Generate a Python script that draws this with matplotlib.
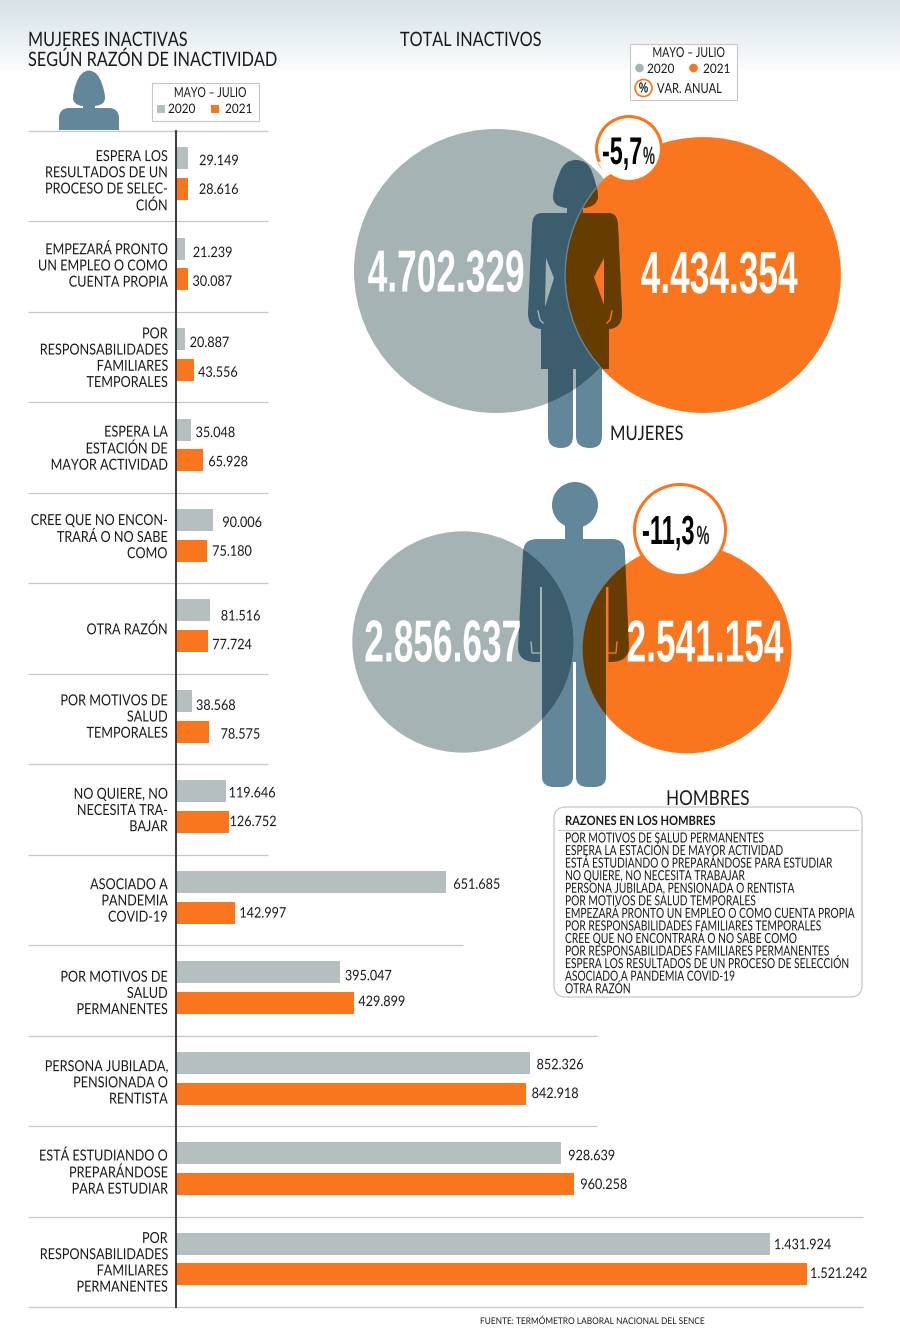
import numpy as np
import matplotlib
matplotlib.use('Agg')
import matplotlib.pyplot as plt
import matplotlib.patheffects as pe
from matplotlib.patches import Circle, PathPatch, Polygon, Rectangle, FancyBboxPatch
from matplotlib.path import Path
from matplotlib.transforms import Affine2D

# Bars: inactive women by reason
reasons = ['ESPERA LOS\nRESULTADOS DE UN\nPROCESO DE SELEC-\nCIÓN',
           'EMPEZARÁ PRONTO\nUN EMPLEO O COMO\nCUENTA PROPIA',
           'POR\nRESPONSABILIDADES\nFAMILIARES\nTEMPORALES',
           'ESPERA LA\nESTACIÓN DE\nMAYOR ACTIVIDAD',
           'CREE QUE NO ENCON-\nTRARÁ O NO SABE\nCOMO',
           'OTRA RAZÓN',
           'POR MOTIVOS DE\nSALUD\nTEMPORALES',
           'NO QUIERE, NO\nNECESITA TRA-\nBAJAR',
           'ASOCIADO A\nPANDEMIA\nCOVID-19',
           'POR MOTIVOS DE\nSALUD\nPERMANENTES',
           'PERSONA JUBILADA,\nPENSIONADA O\nRENTISTA',
           'ESTÁ ESTUDIANDO O\nPREPARÁNDOSE\nPARA ESTUDIAR',
           'POR\nRESPONSABILIDADES\nFAMILIARES\nPERMANENTES']
women_2020 = [29149, 21239, 20887, 35048, 90006, 81516, 38568, 119646,
              651685, 395047, 852326, 928639, 1431924]
women_2021 = [28616, 30087, 43556, 65928, 75180, 77724, 78575, 126752,
              142997, 429899, 842918, 960258, 1521242]

# Circles: total inactive
total_women = [4702329, 4434354]
total_men = [2856637, 2541154]
var_women = '-5,7'
var_men = '-11,3'

men_reasons = ['POR MOTIVOS DE SALUD PERMANENTES',
               'ESPERA LA ESTACIÓN DE MAYOR ACTIVIDAD',
               'ESTÁ ESTUDIANDO O PREPARÁNDOSE PARA ESTUDIAR',
               'NO QUIERE, NO NECESITA TRABAJAR',
               'PERSONA JUBILADA, PENSIONADA O RENTISTA',
               'POR MOTIVOS DE SALUD TEMPORALES',
               'EMPEZARÁ PRONTO UN EMPLEO O COMO CUENTA PROPIA',
               'POR RESPONSABILIDADES FAMILIARES TEMPORALES',
               'CREE QUE NO ENCONTRARÁ O NO SABE COMO',
               'POR RESPONSABILIDADES FAMILIARES PERMANENTES',
               'ESPERA LOS RESULTADOS DE UN PROCESO DE SELECCIÓN',
               'ASOCIADO A PANDEMIA COVID-19',
               'OTRA RAZÓN']

GRAY = '#A6B3B4'
BAR_GRAY = '#B5BFC0'
ORANGE = '#FA761E'
BODY = '#62869A'
BODY_GRAY = '#3C5D6E'
BODY_ORANGE = '#663C00'
INK = '#1A1A1A'
RULE = '#C4C8C8'

plt.rcParams['font.family'] = ['Lato', 'DejaVu Sans']
BIG_FONT = ['Liberation Sans', 'DejaVu Sans']


# Tall condensed look: fit the width with the font size, then stretch up from the baseline
class StretchY(pe.AbstractPathEffect):
    def __init__(self, sy):
        super().__init__()
        self.sy = sy

    def draw_path(self, renderer, gc, tpath, affine, rgbFace=None):
        y0 = affine.get_matrix()[1, 2]
        stretched = affine + Affine2D().translate(0, -y0).scale(1, self.sy).translate(0, y0)
        renderer.draw_path(gc, tpath, stretched, rgbFace)


def make_path(steps):
    verts, codes = [], []
    for s in steps:
        if s[0] == 'M':
            verts.append(s[1:3]); codes.append(Path.MOVETO)
        elif s[0] == 'L':
            verts.append(s[1:3]); codes.append(Path.LINETO)
        elif s[0] == 'Q':
            verts += [s[1:3], s[3:5]]; codes += [Path.CURVE3, Path.CURVE3]
    verts.append(verts[0]); codes.append(Path.CLOSEPOLY)
    return Path(verts, codes)


fig = plt.figure(figsize=(9, 13.39), dpi=100)

# Page axes in pixel coordinates for everything around the bars
page = fig.add_axes([0, 0, 1, 1], zorder=0)
page.set_xlim(0, 900)
page.set_ylim(1339, 0)
page.axis('off')


def txt(x, y, s, size, sy=1.25, color=INK, **kw):
    return page.text(x, y, s, fontsize=size, color=color, path_effects=[StretchY(sy)], **kw)


# top gradient band
band = np.linspace(0, 1, 70).reshape(-1, 1, 1)
top = np.array([0.84, 0.885, 0.905])
bottom = np.array([0.985, 0.99, 0.99])
page.imshow(top + (bottom - top) * band, extent=(0, 900, 70, 0), aspect='auto', zorder=0)
page.set_xlim(0, 900)
page.set_ylim(1339, 0)

# titles
txt(28, 46, 'MUJERES INACTIVAS', 11.7, sy=1.22)
txt(28, 66, 'SEGÚN RAZÓN DE INACTIVIDAD', 11.7, sy=1.22)
txt(400, 46, 'TOTAL INACTIVOS', 11.7, sy=1.22)
txt(610, 440, 'MUJERES', 12, sy=1.2)
txt(708, 805, 'HOMBRES', 12.3, sy=1.2, ha='center')

# woman icon above the bars
icon = make_path([('M', 89, 70.5), ('Q', 98, 71, 102, 84), ('Q', 105, 92, 105, 98), ('Q', 105, 105, 95, 106),
                  ('L', 95, 108), ('L', 110, 108), ('Q', 119, 109, 119, 118), ('L', 119, 130), ('L', 59, 130),
                  ('L', 59, 118), ('Q', 59, 109, 68, 108), ('L', 83, 108), ('L', 83, 106), ('Q', 73, 105, 73, 98),
                  ('Q', 73, 92, 76, 84), ('Q', 80, 71, 89, 70.5)])
page.add_patch(PathPatch(icon, fc=BODY, ec='none'))

# bar legend
page.add_patch(Rectangle((151.5, 82.5), 107, 38, fc='white', ec=RULE, lw=0.8))
txt(210, 97, 'MAYO – JULIO', 7.6, sy=1.3, ha='center')
page.add_patch(Rectangle((157, 104.5), 8, 8, fc=BAR_GRAY, ec='none'))
txt(168, 113, '2020', 8.5, sy=1.1)
page.add_patch(Rectangle((211, 104.5), 8, 8, fc=ORANGE, ec='none'))
txt(225, 113, '2021', 8.5, sy=1.1)

# rows
row_top = 131
row_h = (1307 - 131) / 13
rule_ends = [268] * 9 + [463, 597, 597, 863, 863]
label_shift = [4, -2, 0, 0, -2, 0, -3, 0, 0, 2, 1, 0, 0]
for i, end in enumerate(rule_ends):
    y = row_top + i * row_h
    page.plot([28, end], [y, y], color=RULE, lw=0.9, solid_capstyle='butt')
for i, label in enumerate(reasons):
    txt(167.5, row_top + (i + 0.5) * row_h + label_shift[i] + 1.5, label, 9.1, sy=1.2, ha='right', va='center',
        linespacing=1.42)

# Bars axes: zero sits on the dark vertical line, scale
ax = fig.add_axes([176 / 900, 1 - 1307 / 1339, 724 / 900, 1176 / 1339], zorder=1)
ax.patch.set_alpha(0)
ax.set_xlim(0, 1521242 * 724 / 631)
ax.set_ylim(13, 0)
ax.axis('off')
rows = np.arange(len(reasons))
ax.barh(rows + 0.30, women_2020, height=0.243, color=BAR_GRAY)
ax.barh(rows + 0.64, women_2021, height=0.243, color=ORANGE)
ax.plot([0, 0], [0, 13], color='#2B2B2B', lw=1.3, clip_on=False)

# per-label nudges in pixels, the source does not space them evenly
gaps_2020 = [11, 8, 5, 5, 9, 11, 4, 3, 7, 5, 7, 7, 4]
gaps_2021 = [11, 4, 4, 5, 5, 4, 12, 1, 4, 4, 6, 6, 3]
drop_2020 = [3, 4.5, 4, 3.6, 3, 6, 5, 2, 3, 4, 2.5, 3, 1.5]
drop_2021 = [1, 2.5, 3, 2, 1, 4, 3, 0, 1, -1, 0.5, 1, -0.5]


def fmt(v):
    return f'{v:,}'.replace(',', '.')


for i in rows:
    for vals, gaps, drops, off in ((women_2020, gaps_2020, drop_2020, 0.30),
                                   (women_2021, gaps_2021, drop_2021, 0.64)):
        ax.annotate(fmt(vals[i]), (vals[i], i + off), xytext=(gaps[i] * 0.72, -drops[i] * 0.72),
                    textcoords='offset points', fontsize=9.1, color=INK, va='center',
                    path_effects=[StretchY(1.15)])

# Circles, radius follows the square root of the total
k = 142 / np.sqrt(total_women[0])
w_gray = Circle((496, 271), k * np.sqrt(total_women[0]), fc=GRAY, ec='none', zorder=2)
w_orange = Circle((703, 275), k * np.sqrt(total_women[1]), fc=ORANGE, ec='none', zorder=3)
m_gray = Circle((463, 642), k * np.sqrt(total_men[0]), fc=GRAY, ec='none', zorder=2)
m_orange = Circle((687, 649), k * np.sqrt(total_men[1]), fc=ORANGE, ec='none', zorder=3)

woman_path = make_path([
    ('M', 576, 160), ('Q', 588, 160, 592, 172), ('Q', 598, 188, 598, 197), ('Q', 597, 207, 583, 208), ('L', 583, 213),
    ('L', 608, 213),
    ('Q', 618, 213, 618, 226), ('L', 622, 313), ('Q', 622, 328, 609, 329), ('L', 609, 369), ('L', 602, 369),
    ('L', 602, 436), ('Q', 602, 448, 590, 448), ('Q', 576, 448, 576, 436), ('L', 576, 369), ('L', 573, 369),
    ('L', 573, 436), ('Q', 573, 448, 561, 448), ('Q', 548, 448, 548, 436), ('L', 548, 369), ('L', 541, 369),
    ('L', 541, 329), ('Q', 528, 328, 528, 313), ('L', 532, 226), ('Q', 532, 213, 542, 213), ('L', 567, 213),
    ('L', 567, 208), ('Q', 553, 207, 553, 197), ('Q', 553, 188, 560, 172), ('Q', 564, 160, 576, 160)])
woman_gap_l = Polygon([(546, 258), (545, 307), (554, 278)], closed=True, fc=GRAY, ec='none', zorder=6)
woman_gap_r = Polygon([(604, 258), (594, 277), (604, 305)], closed=True, fc=ORANGE, ec='none', zorder=6)

man_body = make_path([
    ('M', 565, 525), ('L', 583, 525), ('L', 583, 539), ('L', 612, 539), ('Q', 625, 539, 625, 553), ('L', 629, 647),
    ('Q', 629, 662, 610, 662), ('L', 608.5, 662), ('L', 608.5, 587), ('L', 606, 587), ('L', 606, 777),
    ('Q', 606, 787, 594, 787), ('L', 588, 787), ('Q', 576, 787, 576, 777), ('L', 576, 662), ('L', 573, 662),
    ('L', 573, 777), ('Q', 573, 787, 561, 787), ('L', 554, 787), ('Q', 542, 787, 542, 777), ('L', 542, 587),
    ('L', 540, 587), ('L', 540, 662), ('L', 536, 662), ('Q', 518, 662, 518, 647), ('L', 523, 553),
    ('Q', 523, 539, 537, 539), ('L', 565, 539)])
man_head = Path.circle((575, 505), 23)

for c in (w_gray, w_orange, m_gray, m_orange):
    page.add_patch(c)

# body colour goes under the circles, darker copies are clipped to each circle
for shape, gray_c, orange_c in ((woman_path, w_gray, w_orange), (man_body, m_gray, m_orange),
                                (man_head, m_gray, m_orange)):
    page.add_patch(PathPatch(shape, fc=BODY, ec='none', zorder=1))
    dark = PathPatch(shape, fc=BODY_GRAY, ec='none', zorder=4)
    page.add_patch(dark)
    dark.set_clip_path(gray_c)
    brown = PathPatch(shape, fc=BODY_ORANGE, ec='none', zorder=5)
    page.add_patch(brown)
    brown.set_clip_path(orange_c)

page.add_patch(woman_gap_l)
page.add_patch(woman_gap_r)

# thin edge of the orange circle across the woman, thumbs
edge = Circle(w_orange.center, w_orange.radius, fc='none', ec=BODY, lw=1.0, zorder=5.5)
page.add_patch(edge)
edge.set_clip_path(PathPatch(woman_path, transform=page.transData))
for path, col in ((((538, 311), (540, 320), (543, 323)), GRAY), (((612, 311), (610, 320), (607, 323)), ORANGE),
                  (((531, 642), (532, 653), (540, 653)), GRAY), (((617, 642), (616, 653), (608, 653)), ORANGE)):
    page.plot(*zip(*path), color=col, lw=1.0, zorder=6)

# big totals
big = [(fmt(total_women[0]), 446, 291.5), (fmt(total_women[1]), 719, 293),
       (fmt(total_men[0]), 442.5, 661.5), (fmt(total_men[1]), 705, 661.5)]
for s, x, y in big:
    txt(x, y, s, 25.4, sy=1.68, color='white', family=BIG_FONT, fontweight='bold', ha='center', va='baseline',
        zorder=8)

# variation bubbles
page.add_patch(Circle((629, 149), 32.5, fc='white', ec=ORANGE, lw=2.2, zorder=7))
page.add_patch(Polygon([(598, 162), (606, 177), (614, 172), (615, 160)], closed=True, fc='white', ec='none',
                       zorder=7.5))
txt(602, 164, var_women, 16.8, sy=1.65, color='black', family=BIG_FONT, fontweight='bold', zorder=9)
txt(643, 164, '%', 9.7, sy=1.85, color='#222222', family=BIG_FONT, fontweight='bold', zorder=9)

page.add_patch(Circle((680, 530), 45.5, fc='white', ec=ORANGE, lw=2.2, zorder=7))
txt(642, 544, var_men, 17, sy=1.72, color='black', family=BIG_FONT, fontweight='bold', zorder=9)
txt(696.5, 544, '%', 10.5, sy=1.8, color='#222222', family=BIG_FONT, fontweight='bold', zorder=9)

# circle legend
page.add_patch(Rectangle((629.5, 43.5), 107, 56, fc='white', ec=RULE, lw=0.8, zorder=2))
txt(688.5, 57, 'MAYO – JULIO', 7.6, sy=1.3, ha='center', zorder=3)
page.add_patch(Circle((639.5, 68), 4.3, fc=GRAY, ec='none', zorder=3))
txt(647, 73, '2020', 8.5, sy=1.1, zorder=3)
page.add_patch(Circle((693.5, 68), 4.3, fc=ORANGE, ec='none', zorder=3))
txt(703, 73, '2021', 8.5, sy=1.1, zorder=3)
page.add_patch(Circle((643.5, 88), 8.5, fc='white', ec=ORANGE, lw=1.2, zorder=3))
txt(643.5, 92.5, '%', 7.5, sy=1.4, family=BIG_FONT, fontweight='bold', ha='center', zorder=4)
txt(657, 93, 'VAR. ANUAL', 8, zorder=3)

# men reasons box
page.add_patch(FancyBboxPatch((563, 816), 290, 172, boxstyle='round,pad=9,rounding_size=12',
                              fc='white', ec=RULE, lw=0.9, zorder=2))
txt(565, 825, 'RAZONES EN LOS HOMBRES', 8, sy=1.15, fontweight='bold', zorder=3)
page.plot([558, 858], [829.5, 829.5], color=RULE, lw=0.8, zorder=3)
for i, line in enumerate(men_reasons):
    txt(565, 842.5 + i * 12.56, line, 7.36, sy=1.36, zorder=3)

txt(480, 1324, 'FUENTE: TERMÓMETRO LABORAL NACIONAL DEL SENCE', 6, sy=1.1)

fig.savefig('out.png', dpi=100)
